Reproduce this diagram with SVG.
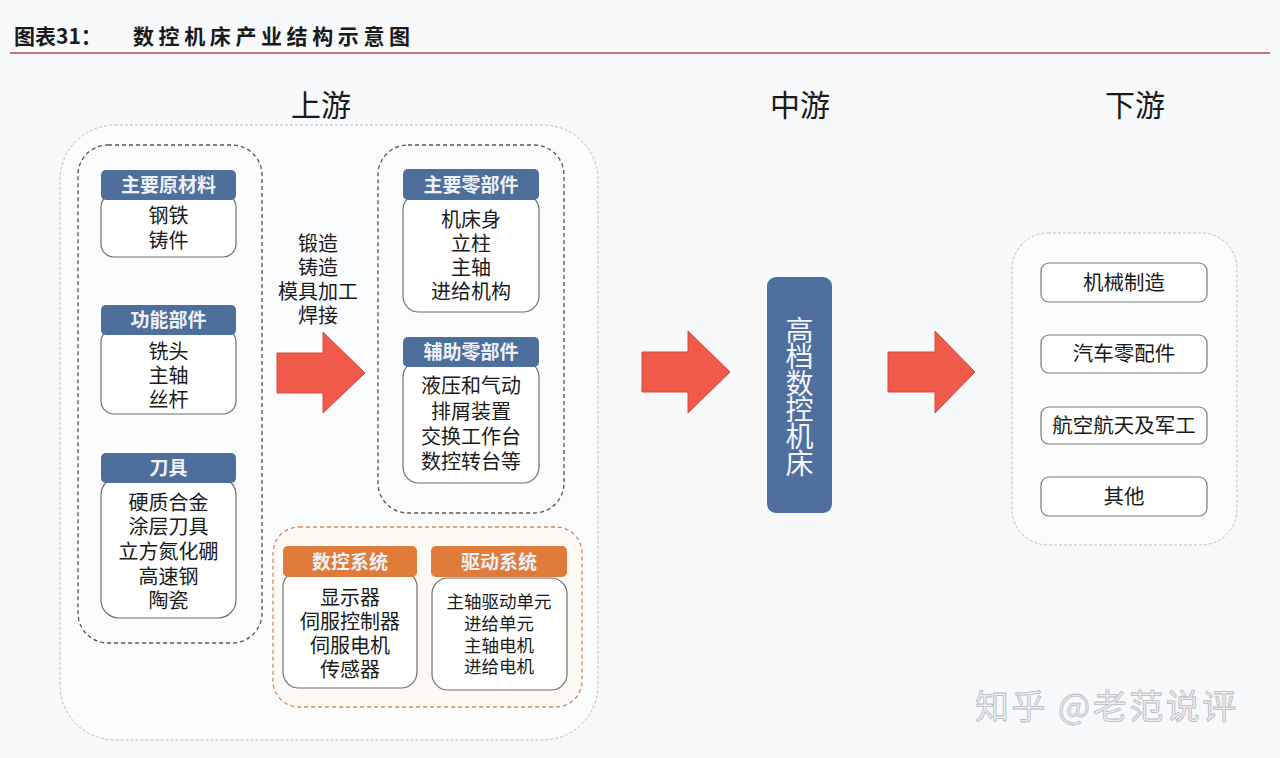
<svg xmlns="http://www.w3.org/2000/svg" width="1280" height="758" viewBox="0 0 1280 758">
<defs>
<style>
text{font-family:"Noto Sans CJK SC","Noto Sans",sans-serif;}
.t{font-size:20px;fill:#1a1a1a;text-anchor:middle;}
.ts{font-size:17.5px;fill:#1a1a1a;text-anchor:middle;}
.ti{font-size:20.5px;fill:#1a1a1a;text-anchor:middle;}
.h{font-size:19px;fill:#eef2f8;text-anchor:middle;font-weight:bold;}
.hb{fill:#4e6e9c;}
.ho{fill:#e07b3a;}
.body{fill:#ffffff;stroke:#6f6f6f;stroke-width:1.2;}
.dash{fill:none;stroke:#555;stroke-width:1.3;stroke-dasharray:4 3;}
.lite{fill:#fbfcfd;stroke:#b9bdc4;stroke-width:1;stroke-dasharray:3 2;}
.arrow{fill:#ef5a4b;stroke:#d84a3d;stroke-width:1;}
.stage{font-size:30px;fill:#1a1a1a;text-anchor:middle;}
.item{fill:#ffffff;stroke:#7a7a7a;stroke-width:1.2;}
</style>
</defs>
<rect x="0" y="0" width="1280" height="758" fill="#f7f9fb"/>
<g id="title">
<text x="14" y="44" font-size="21" font-weight="bold" fill="#1a1a1a">图表31：</text>
<text x="133" y="44" font-size="21" font-weight="bold" fill="#1a1a1a" letter-spacing="4.6">数控机床产业结构示意图</text>
<line x1="10" y1="53" x2="1270" y2="53" stroke="#b5483e" stroke-width="1.6"/>
</g>
<g id="stage-labels">
<text class="stage" x="321" y="116">上游</text>
<text class="stage" x="800" y="116">中游</text>
<text class="stage" x="1135" y="116">下游</text>
</g>
<g id="upstream">
<rect class="lite" x="60" y="125" width="538" height="615" rx="55"/>
<g id="raw-group">
<rect class="dash" x="78" y="145" width="184" height="498" rx="30"/>
<g id="raw">
<rect class="body" x="101" y="194" width="135" height="63" rx="13"/>
<rect class="hb" x="101" y="170" width="135" height="30" rx="5"/>
<text class="h" x="168.5" y="192">主要原材料</text>
<text class="t"><tspan x="168.5" y="223">钢铁</tspan><tspan x="168.5" y="248">铸件</tspan></text>
</g>
<g id="func">
<rect class="body" x="101" y="329" width="135" height="85" rx="13"/>
<rect class="hb" x="101" y="305" width="135" height="30" rx="5"/>
<text class="h" x="168.5" y="327">功能部件</text>
<text class="t"><tspan x="168.5" y="359">铣头</tspan><tspan x="168.5" y="383">主轴</tspan><tspan x="168.5" y="407">丝杆</tspan></text>
</g>
<g id="tool">
<rect class="body" x="101" y="477" width="135" height="141" rx="18"/>
<rect class="hb" x="101" y="453" width="135" height="30" rx="5"/>
<text class="h" x="168.5" y="475">刀具</text>
<text class="t"><tspan x="168.5" y="510">硬质合金</tspan><tspan x="168.5" y="534">涂层刀具</tspan><tspan x="168.5" y="559">立方氮化硼</tspan><tspan x="168.5" y="584">高速钢</tspan><tspan x="168.5" y="608">陶瓷</tspan></text>
</g>
</g>
<g id="process">
<text class="t"><tspan x="318" y="251">锻造</tspan><tspan x="318" y="275">铸造</tspan><tspan x="318" y="299">模具加工</tspan><tspan x="318" y="323">焊接</tspan></text>
</g>
<g id="parts-group">
<rect class="dash" x="378" y="145" width="186" height="368" rx="30"/>
<g id="main-parts">
<rect class="body" x="403" y="194" width="136" height="118" rx="16"/>
<rect class="hb" x="403" y="169" width="136" height="31" rx="5"/>
<text class="h" x="471" y="192">主要零部件</text>
<text class="t"><tspan x="471" y="227">机床身</tspan><tspan x="471" y="251">立柱</tspan><tspan x="471" y="275">主轴</tspan><tspan x="471" y="299">进给机构</tspan></text>
</g>
<g id="aux-parts">
<rect class="body" x="403" y="361" width="136" height="122" rx="16"/>
<rect class="hb" x="403" y="337" width="136" height="30" rx="5"/>
<text class="h" x="471" y="359">辅助零部件</text>
<text class="t"><tspan x="471" y="393">液压和气动</tspan><tspan x="471" y="419">排屑装置</tspan><tspan x="471" y="444">交换工作台</tspan><tspan x="471" y="469">数控转台等</tspan></text>
</g>
</g>
<g id="systems-group">
<rect x="273" y="527" width="309" height="180" rx="26" fill="#fdfaf6" stroke="#d98a55" stroke-width="1.3" stroke-dasharray="4 3"/>
<g id="cnc">
<rect class="body" x="283" y="571" width="134" height="117" rx="16"/>
<rect class="ho" x="283" y="546" width="134" height="31" rx="5"/>
<text class="h" x="350" y="569">数控系统</text>
<text class="t"><tspan x="350" y="605">显示器</tspan><tspan x="350" y="629">伺服控制器</tspan><tspan x="350" y="653">伺服电机</tspan><tspan x="350" y="677">传感器</tspan></text>
</g>
<g id="drive">
<rect class="body" x="432" y="578" width="135" height="112" rx="16"/>
<rect class="ho" x="431" y="546" width="136" height="31" rx="5"/>
<text class="h" x="499" y="569">驱动系统</text>
<text class="ts"><tspan x="499" y="608">主轴驱动单元</tspan><tspan x="499" y="630">进给单元</tspan><tspan x="499" y="652">主轴电机</tspan><tspan x="499" y="673">进给电机</tspan></text>
</g>
</g>
</g>
<g id="connectors">
<polygon class="arrow" points="277,353 323,353 323,332 365,373 323,413 323,393 277,393"/>
<polygon class="arrow" points="642,352 688,352 688,331 730,372 688,413 688,392 642,392"/>
<polygon class="arrow" points="888,352 935,352 935,331 975,372 935,413 935,392 888,392"/>
</g>
<g id="midstream">
<rect x="767" y="277" width="65" height="236" rx="9" fill="#4f6f9f"/>
<text x="799.5" y="316" font-size="28" fill="#f4f6fa" style="writing-mode:vertical-rl;text-orientation:upright" letter-spacing="-1.4">高档数控机床</text>
</g>
<g id="downstream">
<rect class="lite" x="1012" y="233" width="225" height="312" rx="36"/>
<g id="d1"><rect class="item" x="1041" y="263" width="166" height="39" rx="8"/><text class="ti" x="1124" y="290">机械制造</text></g>
<g id="d2"><rect class="item" x="1041" y="335" width="166" height="38" rx="8"/><text class="ti" x="1124" y="361">汽车零配件</text></g>
<g id="d3"><rect class="item" x="1041" y="407" width="166" height="37" rx="8"/><text class="ti" x="1124" y="433">航空航天及军工</text></g>
<g id="d4"><rect class="item" x="1041" y="477" width="166" height="39" rx="8"/><text class="ti" x="1124" y="504">其他</text></g>
</g>
<g id="watermark">
<text x="975" y="719" font-size="34" fill="#eceef1" stroke="#b7bbc1" stroke-width="0.8" letter-spacing="2.5">知乎 @老范说评</text>
</g>
</svg>
